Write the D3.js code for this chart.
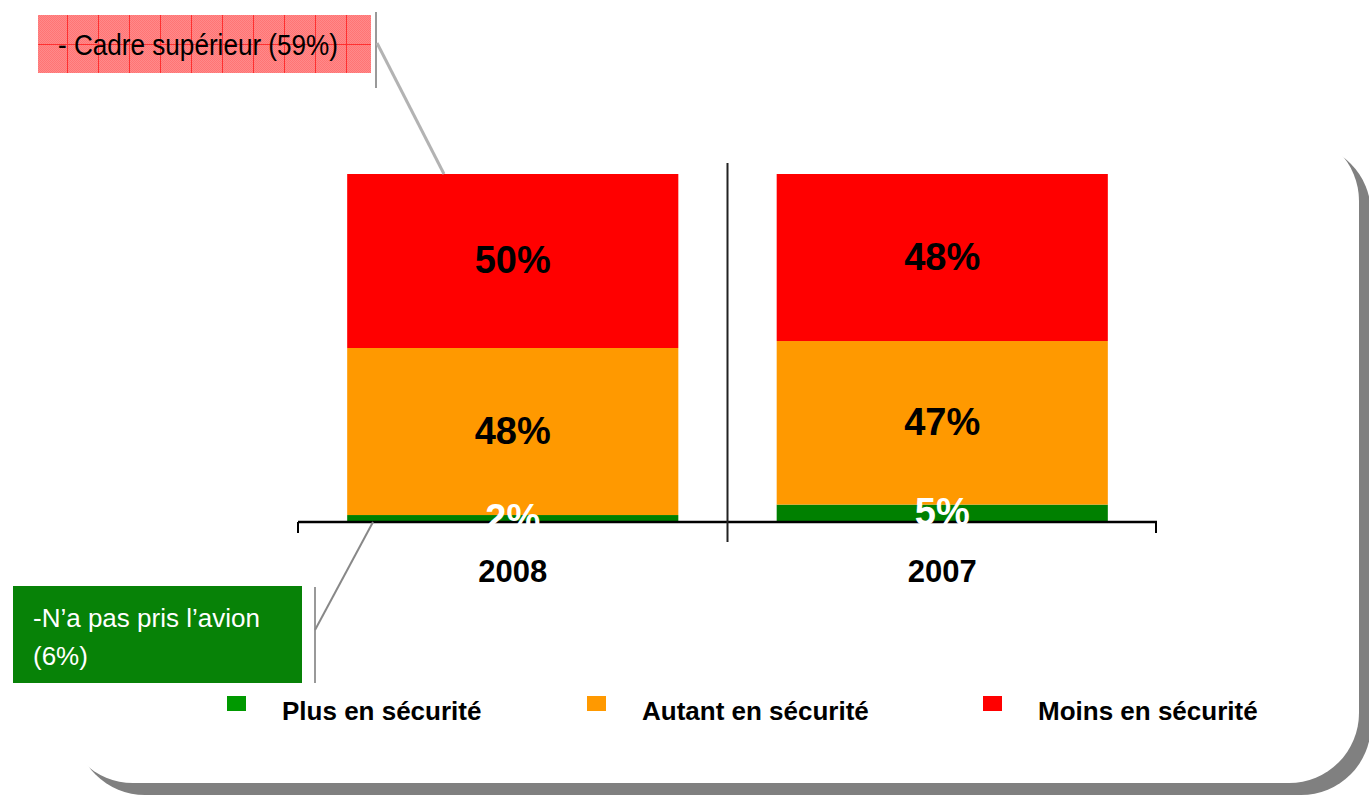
<!DOCTYPE html>
<html lang="fr">
<head>
    <meta charset="UTF-8">
    <title>Sentiment de sécurité</title>
    <style>
        body { margin: 0; background: #fff; }
        svg { display: block; font-family: "Liberation Sans", Arial, sans-serif; }
    </style>
</head>
<body>
    <div id="chart"></div>
    <script src="https://d3js.org/d3.v7.min.js"></script>
    <script>
        // Data
        const years = ["2008", "2007"];
        const plusValues = [2, 5];
        const autantValues = [48, 47];
        const moinsValues = [50, 48];
        const seriesNames = ["Plus en sécurité", "Autant en sécurité", "Moins en sécurité"];
        const seriesKeys = ["plus", "autant", "moins"];
        const barColors = ["#008000", "#ff9900", "#ff0000"];
        const legendColors = ["#009900", "#ff9900", "#ff0000"];
        const labelColors = ["#fff", "#000", "#000"];
        const calloutTop = "- Cadre supérieur (59%)";
        const calloutBottom = ["-N\u2019a pas pris l\u2019avion", "(6%)"];

        const width = 1369, height = 795;

        const svg = d3.select("#chart")
            .append("svg")
            .attr("width", width)
            .attr("height", height);

        const defs = svg.append("defs");

        // fine dither for the pink callout
        const dither = defs.append("pattern")
            .attr("id", "dither")
            .attr("patternUnits", "userSpaceOnUse")
            .attr("width", 2).attr("height", 2);
        dither.append("rect").attr("width", 2).attr("height", 2).attr("fill", "#ff8a8a");
        dither.append("rect").attr("width", 1).attr("height", 1).attr("fill", "#ff7474");
        dither.append("rect").attr("x", 1).attr("y", 1).attr("width", 1).attr("height", 1).attr("fill", "#ff7474");

        const grid = defs.append("pattern")
            .attr("id", "grid")
            .attr("patternUnits", "userSpaceOnUse")
            .attr("x", 37).attr("y", 15)
            .attr("width", 31).attr("height", 30);
        grid.append("line").attr("x1", 30.5).attr("x2", 30.5).attr("y1", 0).attr("y2", 30)
            .attr("stroke", "#ff3030").attr("stroke-width", 1);
        grid.append("line").attr("x1", 0).attr("x2", 31).attr("y1", 29.5).attr("y2", 29.5)
            .attr("stroke", "#ff3030").attr("stroke-width", 1);

        // Rounded panel with shadow
        const panel = { x: 63, y: 131, w: 1296, h: 652, r: 70 };
        svg.append("rect")
            .attr("x", panel.x + 12).attr("y", panel.y + 12)
            .attr("width", panel.w).attr("height", panel.h)
            .attr("rx", panel.r).attr("ry", panel.r)
            .attr("fill", "#808080");
        svg.append("rect")
            .attr("x", panel.x).attr("y", panel.y)
            .attr("width", panel.w).attr("height", panel.h)
            .attr("rx", panel.r).attr("ry", panel.r)
            .attr("fill", "#fff");

        // Scales
        const x = d3.scaleBand()
            .domain(years)
            .range([298, 1157])
            .paddingInner(0.229)
            .paddingOuter(0.1145);

        const y = d3.scaleLinear()
            .domain([0, 100])
            .range([522, 174]);

        const table = years.map((yr, i) => ({
            year: yr, plus: plusValues[i], autant: autantValues[i], moins: moinsValues[i]
        }));
        const stacked = d3.stack().keys(seriesKeys)(table);

        // Bars
        const layers = svg.append("g")
            .selectAll("g")
            .data(stacked)
            .join("g")
            .attr("fill", (d, i) => barColors[i]);

        layers.selectAll("rect")
            .data(d => d)
            .join("rect")
            .attr("x", d => x(d.data.year))
            .attr("width", x.bandwidth())
            .attr("y", d => y(d[1]))
            .attr("height", d => y(d[0]) - y(d[1]));

        // Axis line and ticks
        const axis = svg.append("g").attr("stroke", "#000").attr("fill", "none");
        axis.append("line")
            .attr("x1", x.range()[0]).attr("x2", x.range()[1])
            .attr("y1", y(0)).attr("y2", y(0))
            .attr("stroke-width", 2.5);
        axis.append("line")
            .attr("x1", x.range()[0]).attr("x2", x.range()[0])
            .attr("y1", y(0)).attr("y2", y(0) + 11)
            .attr("stroke-width", 2);
        axis.append("line")
            .attr("x1", x.range()[1] - 1).attr("x2", x.range()[1] - 1)
            .attr("y1", y(0)).attr("y2", y(0) + 11)
            .attr("stroke-width", 2);
        // divider between the two years
        const mid = x(years[1]) - x.step() * x.paddingInner() / 2;
        axis.append("line")
            .attr("x1", mid).attr("x2", mid)
            .attr("y1", 163).attr("y2", y(0) + 20)
            .attr("stroke", "#222")
            .attr("stroke-width", 2);

        // Value labels, drawn on top of every bar and the axis
        const labels = svg.append("g")
            .selectAll("g")
            .data(stacked)
            .join("g")
            .attr("fill", (d, i) => labelColors[i]);
        labels.selectAll("text")
            .data(d => d)
            .join("text")
            .attr("x", d => x(d.data.year) + x.bandwidth() / 2)
            .attr("y", d => (y(d[0]) + y(d[1])) / 2 + 12)
            .attr("text-anchor", "middle")
            .attr("font-size", 38)
            .attr("font-weight", "bold")
            .text(d => (d[1] - d[0]) + "%");

        // Year labels
        svg.append("g")
            .selectAll("text")
            .data(years)
            .join("text")
            .attr("x", d => x(d) + x.bandwidth() / 2)
            .attr("y", 582)
            .attr("text-anchor", "middle")
            .attr("font-size", 31)
            .attr("font-weight", "bold")
            .text(d => d);

        // Legend
        const legendX = [227, 587, 983];
        const legend = svg.append("g")
            .selectAll("g")
            .data(seriesNames)
            .join("g")
            .attr("transform", (d, i) => `translate(${legendX[i]},696)`);
        legend.append("rect")
            .attr("width", 19).attr("height", 15)
            .attr("fill", (d, i) => legendColors[i]);
        legend.append("text")
            .attr("x", 55).attr("y", 24)
            .attr("font-size", 26)
            .attr("font-weight", "bold")
            .text(d => d);

        // Top callout (pink)
        svg.append("rect")
            .attr("x", 38).attr("y", 15).attr("width", 333).attr("height", 58)
            .attr("fill", "url(#dither)");
        svg.append("rect")
            .attr("x", 38).attr("y", 15).attr("width", 333).attr("height", 58)
            .attr("fill", "url(#grid)");
        svg.append("text")
            .attr("x", 58).attr("y", 55)
            .attr("font-size", 29)
            .attr("textLength", 280)
            .attr("lengthAdjust", "spacingAndGlyphs")
            .text(calloutTop);
        svg.append("line")
            .attr("x1", 376).attr("x2", 376).attr("y1", 12).attr("y2", 88)
            .attr("stroke", "#999").attr("stroke-width", 2);
        svg.append("line")
            .attr("x1", 377).attr("y1", 43)
            .attr("x2", 444).attr("y2", y(100))
            .attr("stroke", "#b3b3b3").attr("stroke-width", 3);

        // Bottom callout (green)
        svg.append("rect")
            .attr("x", 13).attr("y", 586).attr("width", 289).attr("height", 97)
            .attr("fill", "#078207");
        svg.append("g")
            .selectAll("text")
            .data(calloutBottom)
            .join("text")
            .attr("x", 33)
            .attr("y", (d, i) => 627 + i * 38)
            .attr("font-size", 26)
            .attr("fill", "#fff")
            .text(d => d);
        svg.append("line")
            .attr("x1", 315).attr("x2", 315).attr("y1", 587).attr("y2", 683)
            .attr("stroke", "#999").attr("stroke-width", 2);
        svg.append("line")
            .attr("x1", 315).attr("y1", 630)
            .attr("x2", 373).attr("y2", y(0))
            .attr("stroke", "#888").attr("stroke-width", 2);
    </script>
</body>
</html>
